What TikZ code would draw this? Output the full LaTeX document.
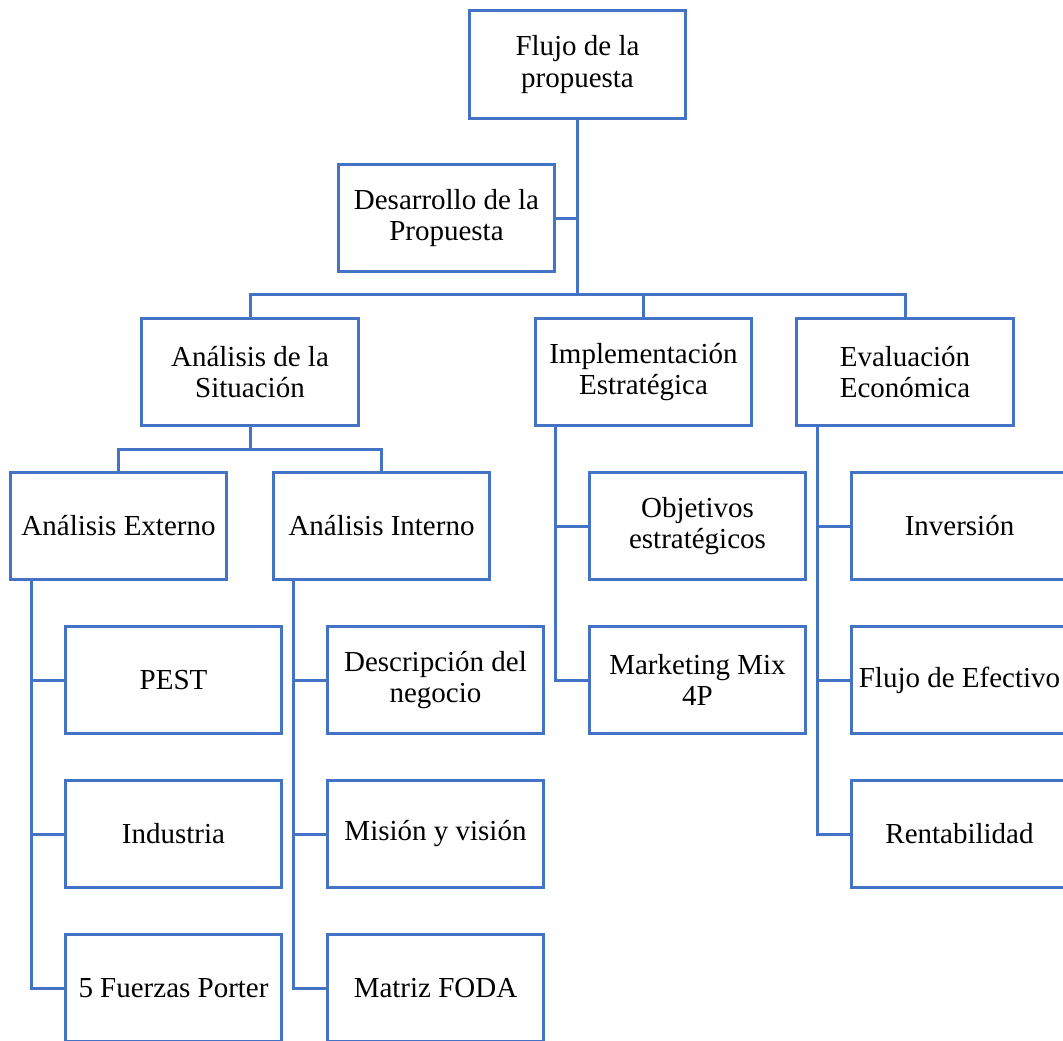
\documentclass[tikz,border=0pt]{standalone}
\usepackage{fontspec}
\setmainfont{Liberation Serif}
\definecolor{azul}{RGB}{68,114,196}
\tikzset{
  caja/.style={draw=azul, line width=0.06cm, fill=white, minimum width=4.34cm,
    minimum height=2.16cm, inner sep=0pt, align=center,
    font=\fontsize{16.5}{18}\selectfont},
  enlace/.style={draw=azul, line width=0.06cm}
}

\begin{document}
\begin{tikzpicture}[x=0.02cm,y=-0.02cm]
\useasboundingbox (0,0) rectangle (1063,1041);
\fill[white] (0,0) rectangle (1063,1041);
\clip (0,0) rectangle (1063,1041);

% nivel 1 y 2
\node[caja] (flujo) at (577.5,64.5) {Flujo de la\\propuesta};
\node[caja] (desarrollo) at (446.5,218) {Desarrollo de la\\Propuesta};
\coordinate (bus) at (577.5,294);

% nivel 3
\node[caja] (situacion) at (250,372) {Análisis de la\\Situación};
\node[caja] (implementacion) at (643.5,372) {Implementación\\Estratégica};
\node[caja] (evaluacion) at (905,372) {Evaluación\\Económica};
\coordinate (sit) at (250,449);

% nivel 4
\node[caja] (externo) at (118.5,526) {Análisis Externo};
\node[caja] (interno) at (381.5,526) {Análisis Interno};
\node[caja] (objetivos) at (697.5,526) {Objetivos\\estratégicos};
\node[caja] (inversion) at (959.5,526) {Inversión};

% nivel 5
\node[caja] (pest) at (173.5,680) {PEST};
\node[caja] (descripcion) at (435.5,680) {Descripción del\\negocio};
\node[caja] (marketing) at (697.5,680) {Marketing Mix\\4P};
\node[caja] (efectivo) at (959.5,680) {Flujo de Efectivo};

\node[caja] (industria) at (173.5,834) {Industria};
\node[caja] (mision) at (435.5,834) {Misión y visión};
\node[caja] (rentabilidad) at (959.5,834) {Rentabilidad};

\node[caja] (porter) at (173.5,988) {5 Fuerzas Porter};
\node[caja] (foda) at (435.5,988) {Matriz FODA};

% conectores
\draw[enlace] (flujo.south) -- (bus);
\draw[enlace] (desarrollo.east) -| (flujo.south);
\draw[enlace] (situacion.north) |- (bus) -| (evaluacion.north);
\draw[enlace] (bus) -| (implementacion.north);
\draw[enlace] (situacion.south) -- (sit);
\draw[enlace] (externo.north) |- (sit) -| (interno.north);
\foreach \hijo in {pest,industria,porter}
  \draw[enlace] ([xshift=0.46cm]externo.south west) |- (\hijo.west);
\foreach \hijo in {descripcion,mision,foda}
  \draw[enlace] ([xshift=0.44cm]interno.south west) |- (\hijo.west);
\foreach \hijo in {objetivos,marketing}
  \draw[enlace] ([xshift=0.44cm]implementacion.south west) |- (\hijo.west);
\foreach \hijo in {inversion,efectivo,rentabilidad}
  \draw[enlace] ([xshift=0.44cm]evaluacion.south west) |- (\hijo.west);
\end{tikzpicture}
\end{document}
